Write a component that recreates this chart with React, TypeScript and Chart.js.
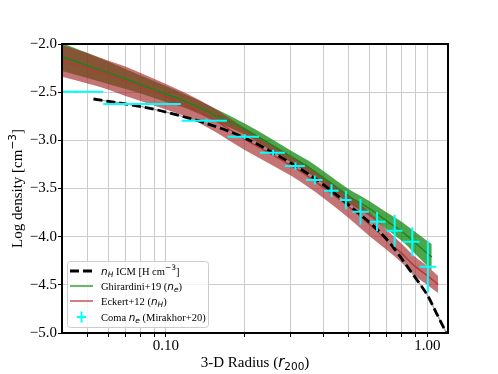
import React, { useEffect, useRef } from 'react';
import { Chart, registerables } from 'chart.js';

Chart.register(...registerables);

// ---------------- data ----------------
const X_TICKS = [0.05, 0.06, 0.07, 0.08, 0.09, 0.1, 0.2, 0.3, 0.4, 0.5, 0.6, 0.7, 0.8, 0.9, 1.0];
const Y_TICKS = [-5.0, -4.5, -4.0, -3.5, -3.0, -2.5, -2.0];

// ICM hydrogen density (dashed)
const ICM_R = [0.0528, 0.0869, 0.1131, 0.143, 0.2004, 0.257, 0.313, 0.371, 0.43, 0.49, 0.567, 0.657, 0.718, 0.784, 0.856, 0.934, 1.005, 1.082, 1.182];
const ICM_NH = [-2.571, -2.668, -2.745, -2.825, -2.975, -3.130, -3.265, -3.395, -3.525, -3.650, -3.793, -3.949, -4.065, -4.200, -4.345, -4.486, -4.615, -4.790, -4.998];

// Ghirardini+19 (n_e)
const GHIR_R = [0.04, 0.05, 0.06, 0.07, 0.08, 0.1, 0.12, 0.15, 0.2, 0.25, 0.3, 0.35, 0.4, 0.5, 0.6, 0.7, 0.8, 0.9, 1.0, 1.04];
const GHIR_MID = [-2.132, -2.223, -2.298, -2.363, -2.422, -2.519, -2.600, -2.722, -2.883, -3.038, -3.168, -3.277, -3.386, -3.578, -3.708, -3.838, -3.947, -4.066, -4.175, -4.212];
const GHIR_HI = [-1.990, -2.093, -2.182, -2.260, -2.327, -2.436, -2.530, -2.654, -2.826, -2.976, -3.106, -3.210, -3.319, -3.506, -3.630, -3.750, -3.848, -3.952, -4.046, -4.077];
const GHIR_LO = [-2.280, -2.353, -2.415, -2.467, -2.514, -2.602, -2.670, -2.789, -2.940, -3.101, -3.231, -3.345, -3.454, -3.651, -3.786, -3.926, -4.046, -4.181, -4.305, -4.347];

// Eckert+12 (n_H)
const ECK_R = [0.04, 0.05, 0.06, 0.07, 0.08, 0.1, 0.12, 0.15, 0.2, 0.25, 0.3, 0.35, 0.4, 0.5, 0.6, 0.7, 0.8, 0.9, 1.0, 1.1];
const ECK_MID = [-2.175, -2.252, -2.322, -2.387, -2.447, -2.548, -2.636, -2.774, -2.987, -3.137, -3.262, -3.376, -3.490, -3.688, -3.870, -4.035, -4.176, -4.311, -4.404, -4.498];
const ECK_HI = [-2.010, -2.093, -2.171, -2.234, -2.301, -2.415, -2.514, -2.654, -2.872, -3.028, -3.158, -3.267, -3.381, -3.568, -3.745, -3.931, -4.077, -4.212, -4.305, -4.409];
const ECK_LO = [-2.340, -2.410, -2.472, -2.540, -2.592, -2.680, -2.758, -2.893, -3.101, -3.246, -3.366, -3.485, -3.599, -3.807, -3.994, -4.139, -4.274, -4.409, -4.503, -4.586];

// Coma n_e (Mirakhor+20)
const COMA_R = [0.045, 0.0853, 0.143, 0.200, 0.257, 0.313, 0.371, 0.43, 0.488, 0.555, 0.642, 0.75, 0.876, 1.005];
const COMA_RLO = [0.03, 0.0575, 0.1148, 0.172, 0.2286, 0.285, 0.343, 0.402, 0.463, 0.517, 0.602, 0.697, 0.807, 0.935];
const COMA_RHI = [0.0575, 0.114, 0.171, 0.227, 0.285, 0.340, 0.397, 0.458, 0.513, 0.598, 0.693, 0.803, 0.935, 1.082];
const COMA_NE = [-2.495, -2.623, -2.796, -2.963, -3.129, -3.267, -3.412, -3.523, -3.620, -3.741, -3.845, -3.939, -4.053, -4.312];
const COMA_ERR = [0.01, 0.012, 0.02, 0.025, 0.03, 0.04, 0.047, 0.066, 0.095, 0.135, 0.10, 0.165, 0.15, 0.265];

// ---------------- styling ----------------
const SERIF = '"Liberation Serif", "Times New Roman", serif';
const MATH = '"DejaVu Sans", sans-serif';
const GREEN_LINE = '#1a861a';
const RED_LINE = '#b23a3a';
const GREEN_FILL = 'rgba(0,128,0,0.7)';
const RED_FILL = 'rgba(165,42,42,0.65)';
const CYAN = '#00ffff';

type Part = { t: string; f: string; dy?: number };

function richWidth(ctx: CanvasRenderingContext2D, parts: Part[]) {
  let w = 0;
  for (const p of parts) {
    ctx.font = p.f;
    w += ctx.measureText(p.t).width;
  }
  return w;
}
function drawRich(ctx: CanvasRenderingContext2D, parts: Part[], x: number, y: number) {
  let cx = x;
  ctx.textAlign = 'left';
  ctx.textBaseline = 'alphabetic';
  for (const p of parts) {
    ctx.font = p.f;
    ctx.fillText(p.t, cx, y + (p.dy || 0));
    cx += ctx.measureText(p.t).width;
  }
}

const pts = (xs: number[], ys: number[]) => xs.map((x, i) => ({ x, y: ys[i] }));

const decorPlugin = {
  id: 'decor',
  afterDraw(chart: any) {
    const ctx: CanvasRenderingContext2D = chart.ctx;
    const a = chart.chartArea;
    ctx.save();
    // frame
    ctx.strokeStyle = '#000';
    ctx.lineWidth = 2;
    ctx.strokeRect(a.left, a.top, a.right - a.left, a.bottom - a.top);

    ctx.fillStyle = '#000';
    // x title
    const xt: Part[] = [
      { t: '3-D Radius (', f: `15px ${SERIF}` },
      { t: 'r', f: `italic 15px ${MATH}` },
      { t: '200', f: `10.5px ${MATH}`, dy: 3 },
      { t: ')', f: `15px ${SERIF}` },
    ];
    const xw = richWidth(ctx, xt);
    drawRich(ctx, xt, (a.left + a.right) / 2 - xw / 2, 366.5);

    // y title
    const yt: Part[] = [
      { t: 'Log density [cm', f: `15px ${SERIF}` },
      { t: '\u22123', f: `10.5px ${MATH}`, dy: -6 },
      { t: ']', f: `15px ${SERIF}` },
    ];
    const yw = richWidth(ctx, yt);
    ctx.save();
    ctx.translate(21.5, (a.top + a.bottom) / 2);
    ctx.rotate(-Math.PI / 2);
    drawRich(ctx, yt, -yw / 2, 0);
    ctx.restore();

    // legend
    const x0 = a.left + 5;
    const y0 = a.bottom - 72;
    const w = 141;
    const h = 66;
    ctx.beginPath();
    (ctx as any).roundRect(x0 + 0.5, y0 + 0.5, w, h, 3);
    ctx.fillStyle = 'rgba(255,255,255,0.8)';
    ctx.fill();
    ctx.strokeStyle = '#cccccc';
    ctx.lineWidth = 1;
    ctx.stroke();

    const rows = [y0 + 10, y0 + 25, y0 + 40, y0 + 56];
    const hx0 = x0 + 3;
    const hx1 = x0 + 26;
    // dashed handle
    ctx.strokeStyle = '#000';
    ctx.lineWidth = 2.8;
    ctx.setLineDash([9, 4]);
    ctx.beginPath();
    ctx.moveTo(hx0, rows[0]);
    ctx.lineTo(hx1, rows[0]);
    ctx.stroke();
    ctx.setLineDash([]);
    // green
    ctx.strokeStyle = '#3a9f3a';
    ctx.lineWidth = 1.5;
    ctx.beginPath();
    ctx.moveTo(hx0, rows[1]);
    ctx.lineTo(hx1, rows[1]);
    ctx.stroke();
    // red
    ctx.strokeStyle = '#c45555';
    ctx.beginPath();
    ctx.moveTo(hx0, rows[2]);
    ctx.lineTo(hx1, rows[2]);
    ctx.stroke();
    // cyan plus
    ctx.strokeStyle = CYAN;
    ctx.lineWidth = 2;
    const cxm = (hx0 + hx1) / 2;
    ctx.beginPath();
    ctx.moveTo(cxm - 4.5, rows[3]);
    ctx.lineTo(cxm + 4.5, rows[3]);
    ctx.moveTo(cxm, rows[3] - 5.5);
    ctx.lineTo(cxm, rows[3] + 5.5);
    ctx.stroke();

    ctx.fillStyle = '#000';
    const tx = x0 + 34;
    const RF = `10.5px ${SERIF}`;
    const MF = `italic 10.5px ${MATH}`;
    const SF = `italic 7.5px ${MATH}`;
    const labels: Part[][] = [
      [
        { t: 'n', f: MF },
        { t: 'H', f: SF, dy: 2.5 },
        { t: ' ICM [H cm', f: RF },
        { t: '\u22123', f: `7.5px ${MATH}`, dy: -4.5 },
        { t: ']', f: RF },
      ],
      [
        { t: 'Ghirardini+19 (', f: RF },
        { t: 'n', f: MF },
        { t: 'e', f: SF, dy: 2.5 },
        { t: ')', f: RF },
      ],
      [
        { t: 'Eckert+12 (', f: RF },
        { t: 'n', f: MF },
        { t: 'H', f: SF, dy: 2.5 },
        { t: ')', f: RF },
      ],
      [
        { t: 'Coma ', f: RF },
        { t: 'n', f: MF },
        { t: 'e', f: SF, dy: 2.5 },
        { t: ' (Mirakhor+20)', f: RF },
      ],
    ];
    labels.forEach((parts, i) => drawRich(ctx, parts, tx, rows[i] + 3.5));
    ctx.restore();
  },
};

export default function App() {
  const ref = useRef<HTMLCanvasElement | null>(null);

  useEffect(() => {
    if (!ref.current) return;

    const hBars: any[] = [];
    const vBars: any[] = [];
    COMA_R.forEach((r, i) => {
      hBars.push({ x: COMA_RLO[i], y: COMA_NE[i] }, { x: COMA_RHI[i], y: COMA_NE[i] }, { x: COMA_RHI[i], y: null });
      vBars.push({ x: r, y: COMA_NE[i] - COMA_ERR[i] }, { x: r, y: COMA_NE[i] + COMA_ERR[i] }, { x: r, y: null });
    });

    const base = { showLine: true, pointRadius: 0, pointHoverRadius: 0, spanGaps: false };
    const band = { ...base, borderWidth: 0, borderColor: 'transparent', cubicInterpolationMode: 'monotone' };

    const chart = new Chart(ref.current, {
      type: 'scatter',
      data: {
        datasets: [
          { ...base, data: hBars, borderColor: CYAN, borderWidth: 2, fill: false },
          { ...base, data: vBars, borderColor: CYAN, borderWidth: 2, fill: false },
          { ...base, data: pts(ICM_R, ICM_NH), borderColor: '#000', borderWidth: 2.8, borderDash: [9, 4], fill: false, cubicInterpolationMode: 'monotone' },
          { ...base, data: pts(ICM_R, ICM_NH), borderColor: '#9a9a9a', borderWidth: 1.2, fill: false, cubicInterpolationMode: 'monotone' },
          { ...base, data: pts(GHIR_R, GHIR_MID), borderColor: GREEN_LINE, borderWidth: 1.4, fill: false, cubicInterpolationMode: 'monotone' },
          { ...base, data: pts(ECK_R, ECK_MID), borderColor: RED_LINE, borderWidth: 1.4, fill: false, cubicInterpolationMode: 'monotone' },
          { ...band, data: pts(ECK_R, ECK_HI), fill: '+1', backgroundColor: RED_FILL },
          { ...band, data: pts(ECK_R, ECK_LO), fill: false },
          { ...band, data: pts(GHIR_R, GHIR_HI), fill: '+1', backgroundColor: GREEN_FILL },
          { ...band, data: pts(GHIR_R, GHIR_LO), fill: false },
        ] as any,
      },
      options: {
        responsive: false,
        animation: false,
        devicePixelRatio: 1,
        events: [],
        layout: { padding: { top: 44, right: 50, left: 0, bottom: 0 } },
        plugins: {
          legend: { display: false },
          tooltip: { enabled: false },
          title: { display: false },
        },
        scales: {
          x: {
            type: 'logarithmic',
            min: 0.04,
            max: 1.2,
            afterBuildTicks: (s: any) => {
              s.ticks = X_TICKS.map((v) => ({ value: v }));
            },
            afterFit: (s: any) => {
              s.height = 41;
            },
            ticks: {
              autoSkip: false,
              maxRotation: 0,
              minRotation: 0,
              padding: 0,
              color: '#000',
              font: { family: SERIF, size: 15 },
              callback: (v: any) => {
                const n = Number(v);
                if (Math.abs(n - 0.1) < 1e-9) return '0.10';
                if (Math.abs(n - 1) < 1e-9) return '1.00';
                return '';
              },
            },
            grid: { color: '#cccccc', lineWidth: 1, drawTicks: true, tickLength: 4, tickColor: '#000', tickWidth: 1 },
            border: { display: false },
          },
          y: {
            type: 'linear',
            min: -5,
            max: -2,
            afterBuildTicks: (s: any) => {
              s.ticks = Y_TICKS.map((v) => ({ value: v }));
            },
            afterFit: (s: any) => {
              s.width = 62;
            },
            ticks: {
              padding: 1,
              color: '#000',
              font: { family: SERIF, size: 15 },
              callback: (v: any) => {
                const n = Number(v);
                return (n < 0 ? '\u2212' : '') + Math.abs(n).toFixed(1);
              },
            },
            grid: { color: '#cccccc', lineWidth: 1, drawTicks: true, tickLength: 4, tickColor: '#000', tickWidth: 1 },
            border: { display: false },
          },
        },
      } as any,
      plugins: [decorPlugin],
    });

    return () => chart.destroy();
  }, []);

  return (
    <div style={{ position: 'fixed', left: 0, top: 0, width: 498, height: 374, background: '#fff' }}>
      <canvas ref={ref} width={498} height={374} style={{ display: 'block' }} />
    </div>
  );
}
